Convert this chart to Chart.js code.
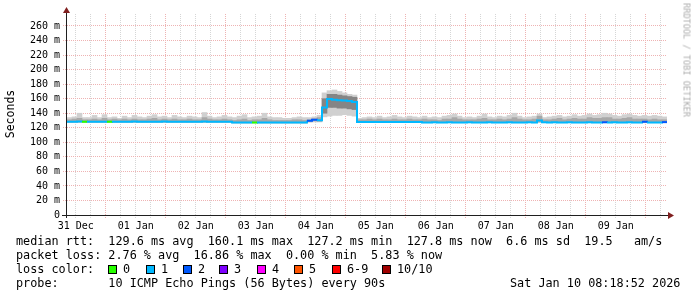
<!DOCTYPE html>
<html><head><meta charset="utf-8">
<script src="https://cdn.jsdelivr.net/npm/chart.js@4/dist/chart.umd.min.js"></script>
<style>
html,body{margin:0;padding:0;background:#fff;}
#wrap{position:relative;width:697px;height:297px;overflow:hidden;background:#fff;}
#c{position:absolute;left:0;top:0;}
.t{position:absolute;font-family:'DejaVu Sans Mono',monospace;white-space:pre;color:#000;}
.leg{font-size:11.8px;line-height:14px;height:14px;}
.box{position:absolute;width:7px;height:7px;border:1px solid #000;}
</style></head><body>
<div id="wrap">
<canvas id="c" width="697" height="297"></canvas>
<div class="t" style="left:-20px;top:106.5px;width:60px;height:14px;line-height:14px;font-size:11.5px;text-align:center;transform:rotate(-90deg);">Seconds</div>
<div class="t" style="left:626px;top:55px;width:121px;height:10px;line-height:10px;font-size:8.6px;text-align:center;color:#ababab;transform:rotate(90deg);">RRDTOOL / TOBI OETIKER</div>
<div class="t leg" style="left:16px;top:234px">median rtt:  129.6 ms avg  160.1 ms max  127.2 ms min  127.8 ms now  6.6 ms sd  19.5   am/s</div>
<div class="t leg" style="left:16px;top:247.8px">packet loss: 2.76 % avg  16.86 % max  0.00 % min  5.83 % now</div>
<div class="t leg" style="left:16px;top:261.7px">loss color:</div>
<div id="losslegend"></div>
<div class="t leg" style="left:16px;top:275.5px">probe:       10 ICMP Echo Pings (56 Bytes) every 90s</div>
<div class="t leg" style="left:510px;top:275.5px">Sat Jan 10 08:18:52 2026</div>
</div>
<script>
// ---- data (hours relative to 01 Jan 00:00; values in milliseconds) ----
const dayLabels = ['31 Dec','01 Jan','02 Jan','03 Jan','04 Jan','05 Jan','06 Jan','07 Jan','08 Jan','09 Jan'];
const hours = [
 -15.5,-13.5,-11.5,-9.5,-7.5,-5.5,-3.5,-1.5,0.5,2.5,4.5,6.5,
 8.5,10.5,12.5,14.5,16.5,18.5,20.5,22.5,24.5,26.5,28.5,30.5,
 32.5,34.5,36.5,38.5,40.5,42.5,44.5,46.5,48.5,50.5,52.5,54.5,
 56.5,58.5,60.5,62.5,64.5,66.5,68.5,70.5,72.5,74.5,76.5,78.5,
 80.5,82.5,84.5,86.5,88.5,90.5,92.5,94.5,96.5,98.5,100.5,102.5,
 104.5,106.5,108.5,110.5,112.5,114.5,116.5,118.5,120.5,122.5,124.5,126.5,
 128.5,130.5,132.5,134.5,136.5,138.5,140.5,142.5,144.5,146.5,148.5,150.5,
 152.5,154.5,156.5,158.5,160.5,162.5,164.5,166.5,168.5,170.5,172.5,174.5,
 176.5,178.5,180.5,182.5,184.5,186.5,188.5,190.5,192.5,194.5,196.5,198.5,
 200.5,202.5,204.5,206.5,208.5,210.5,212.5,214.5,216.5,218.5,220.5,222.5];
const median = [
 128.4,128.3,128.5,128.3,128.2,128.4,128.3,128.4,128.2,128.3,128.4,128.3,
 128.3,128.5,128.3,128.2,128.4,128.3,128.3,128.5,128.2,128.3,128.4,128.3,
 128.3,128.2,128.4,128.5,128.3,128.2,128.3,128.4,128.3,127.2,127.1,127.3,
 127.2,127.1,127.2,127.3,127.2,127.1,127.2,127.3,127.2,127.1,127.2,127.4,
 129.5,131.0,130.4,148.0,159.5,158.6,158.0,157.4,156.9,155.6,128.1,128.0,
 128.0,128.1,127.9,128.0,128.1,128.0,127.9,128.0,128.1,128.0,127.9,127.4,
 127.4,127.5,127.3,127.4,127.5,127.4,127.3,127.4,127.5,127.4,127.3,127.4,
 127.5,127.4,127.3,127.4,127.5,127.4,127.3,127.4,127.5,127.4,130.0,127.6,
 127.4,127.5,127.3,127.4,127.5,127.4,127.3,127.4,127.5,127.4,127.3,127.6,
 127.4,127.5,127.3,127.4,127.5,127.4,127.3,128.2,127.4,127.3,127.4,127.8];
const lossCount = [
 1,1,1,0,1,1,1,1,0,1,1,1,
 1,1,1,1,1,1,1,1,1,1,1,1,
 1,1,1,1,1,1,1,1,1,1,1,1,
 1,0,1,1,1,1,1,1,1,1,1,1,
 2,2,1,1,1,1,1,1,1,1,1,1,
 1,1,1,1,1,1,1,1,1,1,1,1,
 1,1,1,1,1,1,1,1,1,1,1,1,
 1,1,1,1,1,1,1,1,1,1,1,1,
 1,1,1,1,1,1,1,1,1,1,1,2,
 1,1,1,1,1,1,1,2,1,1,1,2];
const smokeMin = [
 127.5,127.5,127.5,127.5,127.5,127.5,127.5,127.5,127.5,127.5,127.5,127.5,
 127.5,127.5,127.5,127.5,127.5,127.5,127.5,127.5,127.5,127.5,127.5,127.5,
 127.5,127.5,127.5,127.5,127.5,127.5,127.5,127.5,127.5,126.5,126.5,126.5,
 126.5,126.5,126.5,126.5,126.5,126.5,126.5,126.5,126.5,126.5,126.5,126.5,
 127.5,128,128,135,136,137,137,138,137,136,127.3,127.3,
 127.3,127.3,127.3,127.3,127.3,127.3,127.3,127.3,127.3,127.3,127.3,126.8,
 126.8,126.8,126.8,126.8,126.8,126.8,126.8,126.8,126.8,126.8,126.8,126.8,
 126.8,126.8,126.8,126.8,126.8,126.8,126.8,126.8,126.8,126.8,127.0,126.8,
 126.8,126.8,126.8,126.8,126.8,126.8,126.8,126.8,126.8,126.8,126.8,126.8,
 126.8,126.8,126.8,126.8,126.8,126.8,126.8,126.8,126.8,126.8,126.8,126.8];
const smokeLo = [
 127.8,127.8,127.8,127.8,127.8,127.8,127.8,127.8,127.8,127.8,127.8,127.8,
 127.8,127.8,127.8,127.8,127.8,127.8,127.8,127.8,127.8,127.8,127.8,127.8,
 127.8,127.8,127.8,127.8,127.8,127.8,127.8,127.8,127.8,126.8,126.8,126.8,
 126.8,126.8,126.8,126.8,126.8,126.8,126.8,126.8,126.8,126.8,126.8,126.8,
 128.5,129.5,129.0,140,148,148,147,147,146,145,127.6,127.6,
 127.6,127.6,127.6,127.6,127.6,127.6,127.6,127.6,127.6,127.6,127.6,127.0,
 127.0,127.0,127.0,127.0,127.0,127.0,127.0,127.0,127.0,127.0,127.0,127.0,
 127.0,127.0,127.0,127.0,127.0,127.0,127.0,127.0,127.0,127.0,128.0,127.0,
 127.0,127.0,127.0,127.0,127.0,127.0,127.0,127.0,127.0,127.0,127.0,127.0,
 127.0,127.0,127.0,127.0,127.0,127.0,127.0,127.0,127.0,127.0,127.0,127.0];
const smokeHi = [
 131,132,133,131,131,132,131,133,131,132,131,132,
 131,132,131,131,132,133,131,132,131,132,131,131,
 132,131,131,134,132,131,131,132,131,130,131,132,
 130,131,131,133,131,130,130,130,130,131,131,130,
 131,132.5,134,160,166,166,165,164,163,162,131,131,
 132,131,132,131,131,132,131,131,132,131,131,132,
 131,131,130,132,132,134,132,131,131,131,132,133,
 131,131,132,131,132,134,132,131,131,132,136,131,
 131,132,133,131,132,133,132,132,134,133,133,134,
 134,132,132,133,134,132,132,132,131,132,131,131];
const smokeMax = [
 134,135,140,134,134,137,134,138,134,135,133,136,
 134,137,135,134,136,138,135,136,134,137,135,134,
 136,135,134,141,136,134,135,137,135,134,136,138,
 134,135,136,140,135,134,134,133,133,134,135,134,
 134,135,137,168,171,172,170,168,166,165,133,134,
 135,134,136,134,135,137,135,134,136,135,134,136,
 134,135,134,136,137,139,136,134,135,134,136,139,
 135,134,136,135,137,140,136,134,135,136,139,134,
 135,136,137,135,136,138,136,137,139,137,138,140,
 139,137,136,138,139,137,136,137,136,137,136,135];
const lossLabels = ['0','1','2','3','4','5','6-9','10/10'];
const lossColors = ['#26ff00','#00b8ff','#0059ff','#7e00ff','#ff00ff','#ff5500','#ff0000','#a00000'];

// ---- layout constants ----
const STEP = 2, X_MIN = -15.5, X_MAX = 224.5, Y_MAX = 276.5;
const MINOR = '#d6d6d6', MAJOR = '#eeb3b3';

function lossIndex(n){ return n <= 5 ? n : (n >= 10 ? 7 : 6); }

// loss colour legend
(function(){
  const host = document.getElementById('losslegend');
  const boxX = [108,146,183,219,257,294,332,382];
  lossLabels.forEach((lab,i)=>{
    const b = document.createElement('div');
    b.className='box'; b.style.left=boxX[i]+'px'; b.style.top='265px'; b.style.background=lossColors[i];
    host.appendChild(b);
    const t = document.createElement('div');
    t.className='t leg'; t.style.left=(boxX[i]+15)+'px'; t.style.top='261.7px'; t.textContent=lab;
    host.appendChild(t);
  });
})();

const linePts = hours.map((h,i)=>({x:h, y:median[i]}));
linePts.push({x:hours[hours.length-1]+STEP, y:median[median.length-1]});
const outerBars = hours.map((h,i)=>({x:h+STEP/2, y:[smokeMin[i], smokeMax[i]]}));
const innerBars = hours.map((h,i)=>({x:h+STEP/2, y:[smokeLo[i], smokeHi[i]]}));

const xTicks = []; for (let v=-12; v<=X_MAX; v+=6) xTicks.push(v);
const yTicks = []; for (let v=0; v<=270; v+=10) yTicks.push(v);

const axesPlugin = {
  id:'rrdAxes',
  afterDraw(chart){
    const {ctx, chartArea:a} = chart;
    const ax = a.left-0.5, ay = a.bottom+0.5;
    ctx.save();
    ctx.strokeStyle='#1f1f1f'; ctx.lineWidth=1;
    ctx.beginPath();
    ctx.moveTo(a.left-5, ay); ctx.lineTo(a.right+1, ay);
    ctx.moveTo(ax, a.bottom+3); ctx.lineTo(ax, a.top-1);
    ctx.stroke();
    ctx.fillStyle='#801f1f';
    ctx.beginPath(); ctx.moveTo(ax-3.5, a.top-1); ctx.lineTo(ax+3.5, a.top-1); ctx.lineTo(ax, a.top-7); ctx.closePath(); ctx.fill();
    ctx.beginPath(); ctx.moveTo(a.right+1, ay-3.5); ctx.lineTo(a.right+1, ay+3.5); ctx.lineTo(a.right+7, ay); ctx.closePath(); ctx.fill();
    ctx.restore();
  }
};

new Chart(document.getElementById('c'), {
  type:'line',
  data:{datasets:[
    {type:'line', data:linePts, order:0, stepped:true, borderWidth:2, pointRadius:0, fill:false,
     borderColor:lossColors[1], borderCapStyle:'butt',
     segment:{borderColor: c => lossColors[lossIndex(lossCount[Math.min(c.p0DataIndex, lossCount.length-1)])]}},
    {type:'bar', data:innerBars, order:1, grouped:false, barPercentage:1, categoryPercentage:1,
     backgroundColor: c => (c.raw && (c.raw.y[1]-c.raw.y[0]) > 8) ? '#858585' : '#a8a8a8', borderWidth:0},
    {type:'bar', data:outerBars, order:2, grouped:false, barPercentage:1, categoryPercentage:1,
     backgroundColor:'#d0d0d0', borderWidth:0}
  ]},
  options:{
    responsive:false, animation:false, devicePixelRatio:1,
    layout:{padding:{left:0, top:14, right:30, bottom:0}},
    plugins:{legend:{display:false}, tooltip:{enabled:false}},
    scales:{
      x:{type:'linear', min:X_MIN, max:X_MAX, offset:false,
        afterBuildTicks: s => { s.ticks = xTicks.map(v=>({value:v})); },
        afterFit: s => { s.height = 82; },
        grid:{offset:false, lineWidth:1, tickLength:3, drawTicks:true, tickBorderDash:[1,1],
          color: c => (c.tick && c.tick.value % 24 === 0) ? MAJOR : MINOR,
          tickColor: c => (c.tick && c.tick.value % 24 === 0) ? MAJOR : MINOR},
        border:{display:false, dash:[1,1]},
        ticks:{autoSkip:false, maxRotation:0, minRotation:0, padding:2, color:'#000',
          font:{family:'DejaVu Sans Mono', size:10},
          callback: v => (((v%24)+24)%24 === 12) ? dayLabels[(v+12)/24] : ''}
      },
      y:{type:'linear', min:0, max:Y_MAX,
        afterBuildTicks: s => { s.ticks = yTicks.map(v=>({value:v})); },
        afterFit: s => { s.width = 67; },
        grid:{lineWidth:1, tickLength:4, drawTicks:true, tickBorderDash:[1,1],
          color: c => (c.tick && c.tick.value % 20 === 0) ? MAJOR : MINOR,
          tickColor: c => (c.tick && c.tick.value % 20 === 0) ? MAJOR : MINOR},
        border:{display:false, dash:[1,1]},
        ticks:{padding:3, color:'#000', font:{family:'DejaVu Sans Mono', size:10},
          callback: v => (v % 20 !== 0) ? '' : (v === 0 ? '0' : v + ' m')}
      }
    }
  },
  plugins:[axesPlugin]
});
</script>
</body></html>
